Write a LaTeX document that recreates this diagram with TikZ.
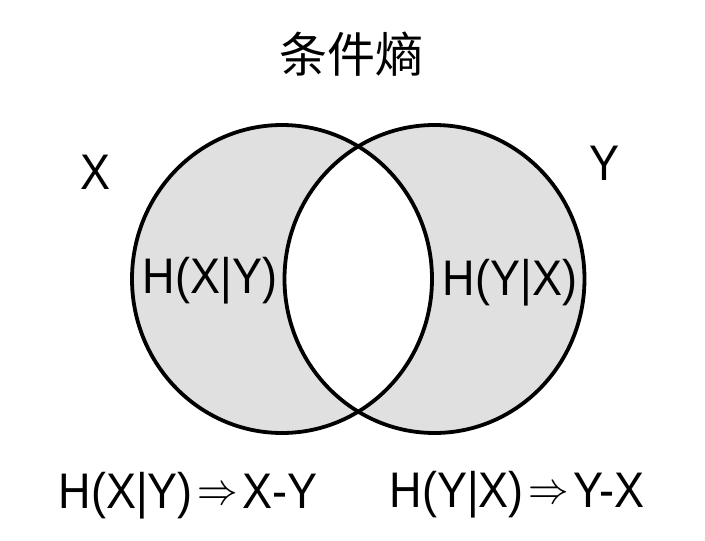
\documentclass[tikz,border=0pt]{standalone}
\usepackage{fontspec}
\setmainfont{Liberation Sans}
\newfontfamily\cjk{Noto Sans CJK SC}
\usepackage{graphicx}
\usepackage{xcolor}
\usetikzlibrary{positioning}
\definecolor{areagray}{RGB}{224,224,224}
\newcommand{\narrowtxt}[1]{\scalebox{0.9}[1]{#1}}
\newcommand{\impl}{\hspace{5pt}\raisebox{4pt}{\scalebox{4.5}{\normalsize$\Rightarrow$}}\hspace{5pt}}

\begin{document}
\begin{tikzpicture}[x=1pt, y=-1pt,
  big/.style={font=\fontsize{50}{60}\selectfont, inner sep=0pt, anchor=base},
  rim/.style={line width=3.8pt}]
  \useasboundingbox (0,0) rectangle (705,541);

  % the two sets, shaded
  \fill[areagray] (282,279) ellipse [x radius=150, y radius=154];
  \fill[areagray] (434.5,279) ellipse [x radius=150, y radius=154];
  \begin{scope}
    \clip (282,279) ellipse [x radius=150, y radius=154];
    \fill[white] (434.5,279) ellipse [x radius=150, y radius=154];
  \end{scope}
  \draw[rim] (282,279) ellipse [x radius=150, y radius=154];
  \draw[rim] (434.5,279) ellipse [x radius=150, y radius=154];

  \node[font=\cjk\fontsize{48}{56}\selectfont, inner sep=0pt] (title) at (351,54) {条件熵};

  \node[big] (setX) at (96,189) {\narrowtxt{X}};
  \node[big] (setY) at (605,180) {\narrowtxt{Y}};

  \node[big] (hxy) at (210,293) {\narrowtxt{H(X|Y)}};
  \node[big] (hyx) at (510,295) {\narrowtxt{H(Y|X)}};

  \node[big] (rulexy) at (188,508) {\narrowtxt{H(X|Y)\impl X-Y}};
  \node[big] (ruleyx) at (517,507) {\narrowtxt{H(Y|X)\impl Y-X}};
\end{tikzpicture}
\end{document}
